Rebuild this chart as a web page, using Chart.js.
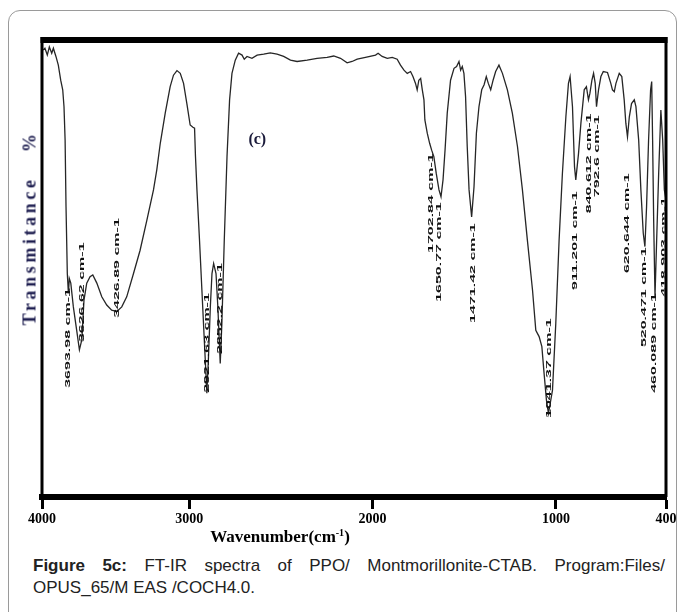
<!DOCTYPE html>
<html>
<head>
<meta charset="utf-8">
<script src="https://cdn.jsdelivr.net/npm/chart.js@4.4.1/dist/chart.umd.min.js"></script>
<style>
    body { margin: 0; background: #fff; width: 683px; height: 612px; overflow: hidden; position: relative; }
    #frame { position: absolute; left: 8px; top: 10px; width: 667px; height: 700px; border: 1px solid #9a9a9a; border-radius: 12px; }
    #wrap { position: absolute; left: 0; top: 0; width: 683px; height: 545px; }
    #yTitle { position: absolute; left: 30px; top: 228px; transform: translate(-50%, -50%) rotate(-90deg); white-space: nowrap;
        font: bold 18px 'Liberation Serif', serif; letter-spacing: 3.6px; color: #1d1d4f; }
    #xTitle { position: absolute; left: 280px; top: 537px; transform: translate(-50%, -50%); white-space: nowrap;
        font: bold 17px 'Liberation Serif', serif; color: #000; }
    #caption { position: absolute; left: 33px; top: 555px; width: 632px; font: 17px 'Liberation Sans', Arial, sans-serif;
        color: #222; line-height: 22px; }
    #caption .l1 { text-align: justify; text-align-last: justify; white-space: nowrap; }
</style>
</head>
<body>
<div id="frame"></div>
<div id="wrap"><canvas id="irChart" width="683" height="545"></canvas></div>
<div id="yTitle">Transmitance&nbsp;&nbsp;&nbsp;%</div>
<div id="xTitle">Wavenumber(cm<sup style="font-size:10px">-1</sup>)</div>
<div id="caption">
    <div class="l1"><b>Figure 5c:</b> FT-IR spectra of PPO/ Montmorillonite-CTAB. Program:Files/</div>
    <div>OPUS_65/M EAS /COCH4.0.</div>
</div>

<script>
// spectrum (wavenumber cm-1, transmittance %)
const wavenumbers = [
    3796, 3787, 3774, 3763, 3750, 3741, 3727, 3714, 3701, 3690, 3683, 3677, 3672, 3665, 3659, 3654, 3646,
    3632, 3614, 3599, 3586, 3574, 3559, 3541, 3526, 3504, 3477, 3450, 3423, 3395, 3368, 3341, 3304, 3268,
    3231, 3195, 3177, 3158, 3131, 3104, 3086, 3067, 3049, 3031, 3013, 2995, 2980, 2971, 2966, 2958, 2944,
    2931, 2918, 2909, 2904, 2895, 2885, 2876, 2867, 2854, 2844, 2831, 2822, 2809, 2794, 2780, 2767, 2749,
    2731, 2712, 2700, 2685, 2658, 2630, 2594, 2558, 2521, 2485, 2448, 2412, 2357, 2303, 2248, 2212, 2175,
    2139, 2112, 2084, 2039, 1984, 1970, 1948, 1920, 1893, 1866, 1848, 1829, 1811, 1793, 1780, 1766, 1757,
    1748, 1738, 1729, 1720, 1715, 1702, 1689, 1678, 1666, 1653, 1638, 1627, 1616, 1605, 1593, 1575, 1556,
    1542, 1529, 1520, 1511, 1502, 1493, 1484, 1474, 1460, 1447, 1434, 1420, 1405, 1392, 1380, 1369, 1356,
    1343, 1329, 1311, 1292, 1265, 1238, 1210, 1183, 1156, 1128, 1110, 1092, 1077, 1065, 1052, 1041, 1019,
    1001, 983, 965, 946, 932, 923, 910, 899, 892, 877, 864, 846, 834, 823, 815, 804, 795, 786, 779, 768,
    755, 742, 719, 701, 692, 682, 673, 655, 641, 628, 619, 610, 600, 588, 573, 564, 549, 537, 524, 515,
    506, 495, 484, 478, 473, 467, 460, 451, 440, 428, 418, 409, 400
];
const transmittance = [
    97.8, 98.2, 96.7, 98.5, 97.1, 98.2, 96.4, 94.5, 91.2, 89.1, 85.4, 78.1, 63.5, 48.9, 44.6, 47.8, 46.8,
    41.6, 36.5, 32.2, 34.4, 43.1, 46.8, 48.2, 48.6, 46.8, 43.8, 42.0, 40.9, 40.6, 41.6, 43.8, 48.9, 54.0,
    60.6, 67.2, 71.6, 77.4, 84.0, 89.8, 92.3, 93.3, 92.7, 90.5, 86.1, 81.4, 80.9, 80.7, 74.5, 67.2, 56.2,
    45.3, 34.4, 27.1, 22.7, 30.7, 41.6, 48.9, 51.1, 48.9, 41.6, 29.2, 38.0, 56.2, 74.5, 86.9, 92.7, 95.6,
    97.1, 96.7, 95.8, 96.4, 96.0, 96.7, 96.9, 97.2, 96.9, 96.4, 95.6, 95.3, 95.6, 96.0, 96.2, 96.5, 96.0,
    95.0, 95.3, 95.8, 96.2, 96.7, 97.1, 96.4, 96.0, 96.2, 95.8, 94.5, 93.4, 92.7, 93.1, 92.0, 90.5, 89.1,
    91.2, 91.6, 89.1, 86.9, 82.5, 79.6, 77.4, 75.9, 74.5, 70.8, 67.2, 65.7, 69.4, 75.9, 84.0, 91.2, 93.8,
    94.2, 95.3, 93.4, 94.2, 92.7, 87.6, 76.7, 67.2, 61.3, 67.9, 79.6, 85.4, 89.1, 90.2, 92.0, 90.5, 89.1,
    91.2, 93.1, 94.5, 92.7, 89.1, 84.0, 76.7, 67.2, 56.2, 45.3, 36.5, 35.1, 32.9, 27.1, 21.2, 18.3, 23.4,
    38.0, 56.2, 70.8, 83.2, 90.5, 92.0, 85.4, 72.3, 69.4, 75.2, 81.8, 89.1, 89.8, 86.9, 88.3, 91.2, 92.7, 90.5, 85.4, 89.1,
    92.0, 93.1, 92.9, 90.5, 89.1, 88.7, 90.5, 92.7, 92.0, 86.9, 81.8, 78.8, 83.2, 86.1, 86.9, 85.4, 78.1, 67.2, 57.7, 54.8,
    63.5, 78.1, 89.1, 90.9, 78.1, 59.9, 43.8, 56.2, 70.8, 84.7, 78.1, 67.2, 65.0
];

// x axis: the printed "4000" sits at the left edge of the box (spectrum starts near 3803)
const xStart = 3803;
const xEnd = 400;
const tickValues = [3803, 3000, 2000, 1000, 400];
const tickLabels = ['4000', '3000', '2000', '1000', '400'];

// peak labels: text, wavenumber where the label stands, transmittance at its lower end
const peakTexts = [
    '3693.98 cm-1', '3626.62 cm-1', '3426.89 cm-1', '2921.63 cm-1', '2852.2 cm-1', '1702.84 cm-1',
    '1650.77 cm-1', '1471.42 cm-1', '1041.37 cm-1', '911.201 cm-1', '840.612 cm-1', '792.6 cm-1',
    '620.644 cm-1', '520.471 cm-1', '460.089 cm-1', '418.903 cm-1'
];
const peakPos = [3665, 3586, 3395, 2903, 2831, 1684, 1638, 1456, 1038, 896, 822, 779, 615, 519, 467, 410];
const peakBase = [23.9, 33.9, 39.2, 22.8, 31.3, 53.4, 42.7, 38.1, 17.3, 45.3, 62.1, 65.6, 49.0, 32.8, 22.8, 43.8];

// panel mark "(c)"
const panelMark = { text: '(c)', x: 2629, y: 78.1 };

const spectrum = wavenumbers.map((w, i) => ({ x: w, y: transmittance[i] }));

// thick box round the plot, like the printed frame
const framePlugin = {
    id: 'frame',
    afterDatasetsDraw(chart) {
        const { ctx, chartArea: a } = chart;
        ctx.save();
        ctx.strokeStyle = '#000';
        ctx.lineWidth = 6;
        ctx.beginPath();
        ctx.moveTo(a.left - 1.5, a.top);
        ctx.lineTo(a.right + 1.5, a.top);
        ctx.stroke();
        ctx.lineWidth = 3;
        ctx.beginPath();
        ctx.moveTo(a.left, a.top - 3);
        ctx.lineTo(a.left, a.bottom);
        ctx.moveTo(a.right, a.top - 3);
        ctx.lineTo(a.right, a.bottom);
        ctx.stroke();
        ctx.restore();
    }
};

// vertical peak labels and the panel mark
const peakLabelPlugin = {
    id: 'peakLabels',
    afterDatasetsDraw(chart) {
        const { ctx, chartArea: a, scales } = chart;
        ctx.save();
        ctx.beginPath();
        ctx.rect(a.left + 1.5, a.top, a.right - a.left - 3, a.bottom - a.top);
        ctx.clip();
        ctx.fillStyle = '#111';
        ctx.font = "bold 8px 'Liberation Sans', Arial, sans-serif";
        ctx.textBaseline = 'middle';
        ctx.textAlign = 'left';
        peakTexts.forEach((t, i) => {
            const px = scales.x.getPixelForValue(peakPos[i]);
            const py = scales.y.getPixelForValue(peakBase[i]);
            ctx.save();
            ctx.translate(px, py);
            ctx.rotate(-Math.PI / 2);
            ctx.scale(2.0, 1);
            ctx.fillText(t, 0, 0);
            ctx.restore();
        });
        ctx.fillStyle = '#1a1a3a';
        ctx.font = "bold 16px 'Liberation Serif', serif";
        ctx.textAlign = 'center';
        ctx.fillText(panelMark.text, scales.x.getPixelForValue(panelMark.x), scales.y.getPixelForValue(panelMark.y));
        ctx.restore();
    }
};

const ctx = document.getElementById('irChart');
const chart = new Chart(ctx, {
    type: 'line',
    data: {
        datasets: [{
            label: 'PPO/MMT-CTAB',
            data: spectrum,
            borderColor: '#262626',
            borderWidth: 1.3,
            pointRadius: 0,
            tension: 0,
            fill: false
        }]
    },
    options: {
        responsive: false,
        animation: false,
        devicePixelRatio: 1,
        layout: { padding: { left: 42, right: 17, top: 40, bottom: 15 } },
        plugins: {
            legend: { display: false },
            tooltip: { enabled: false }
        },
        scales: {
            x: {
                type: 'linear',
                reverse: true,
                min: xEnd,
                max: xStart,
                afterBuildTicks: (scale) => {
                    scale.ticks = tickValues.map(v => ({ value: v }));
                },
                afterFit: (scale) => { scale.height = 33; },
                ticks: {
                    autoSkip: false,
                    maxRotation: 0,
                    padding: 2,
                    color: '#000',
                    font: { family: "'Liberation Serif', serif", size: 14, weight: 'bold' },
                    callback: (value) => tickLabels[tickValues.indexOf(value)]
                },
                grid: {
                    display: true,
                    drawOnChartArea: false,
                    drawTicks: true,
                    tickLength: 12,
                    tickWidth: 3,
                    tickColor: '#000'
                },
                border: { display: true, width: 6, color: '#000' }
            },
            y: {
                display: false,
                min: 0,
                max: 100
            }
        }
    },
    plugins: [framePlugin, peakLabelPlugin]
});
</script>
</body>
</html>
